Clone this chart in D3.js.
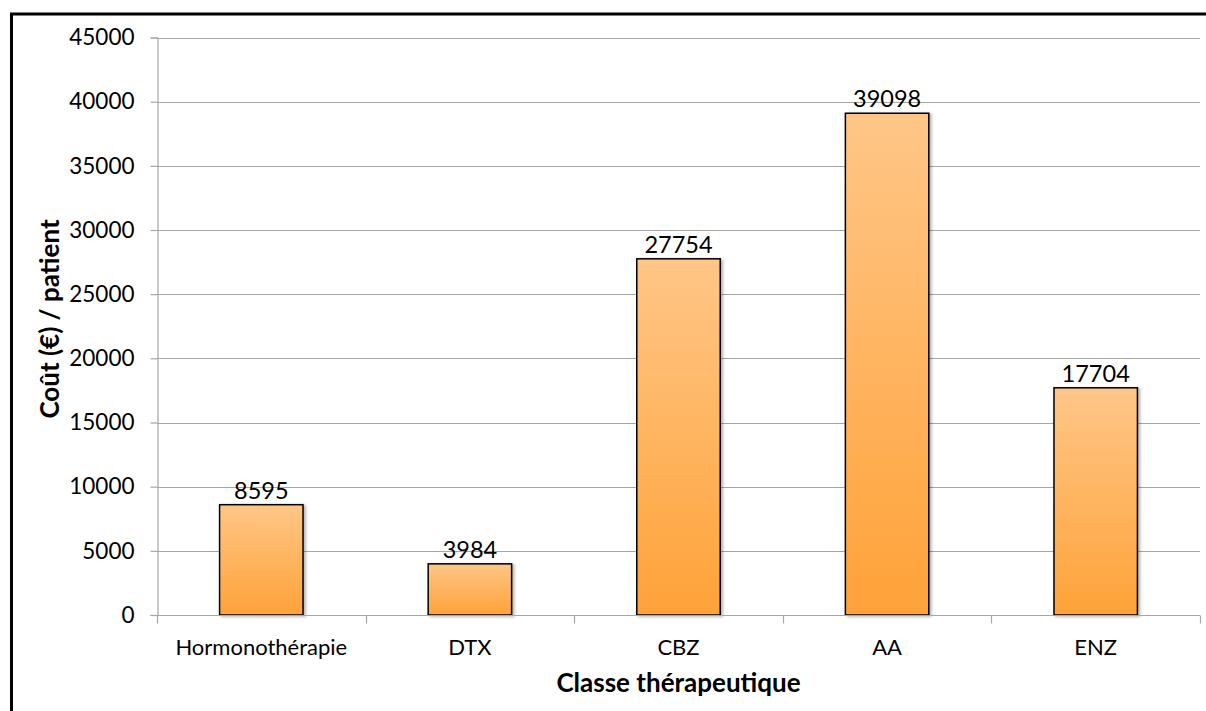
<!DOCTYPE html>
<html>
<head>
<meta charset="utf-8">
<script src="https://cdn.jsdelivr.net/npm/d3@7"></script>
<style>
  body { margin: 0; background: #fff; }
  text { font-family: Lato, "Open Sans", sans-serif; fill: #000; }
</style>
</head>
<body>
<svg id="chart" width="1206" height="711"></svg>
<script>
'use strict';

// chart data
const categories = ['Hormonothérapie', 'DTX', 'CBZ', 'AA', 'ENZ'];
const costs = [8595, 3984, 27754, 39098, 17704];
const yTicks = [0, 5000, 10000, 15000, 20000, 25000, 30000, 35000, 40000, 45000];
const xTitle = 'Classe thérapeutique';
const yTitle = 'Coût (€) / patient';

const svg = d3.select('#chart');

// plot area bounds
const plotL = 157, plotR = 1200, plotT = 37.5, plotB = 615;

const x = d3.scaleBand().domain(categories).range([plotL, plotR]).padding(0);
const y = d3.scaleLinear().domain([0, 45000]).range([plotB, plotT]);

// frame around the whole chart (only top and left edges are visible)
svg.append('rect')
  .attr('x', 11.5).attr('y', 14)
  .attr('width', 1400).attr('height', 1000)
  .attr('fill', 'none')
  .attr('stroke', '#000')
  .attr('stroke-width', 3);

// gradient + shadow for bars
const defs = svg.append('defs');
const grad = defs.append('linearGradient')
  .attr('id', 'barGrad')
  .attr('x1', 0).attr('y1', 0).attr('x2', 0).attr('y2', 1);
grad.append('stop').attr('offset', '0%').attr('stop-color', '#ffc687');
grad.append('stop').attr('offset', '100%').attr('stop-color', '#ffa239');
const shadow = defs.append('filter').attr('id', 'shadow')
  .attr('x', '-10%').attr('y', '-10%').attr('width', '130%').attr('height', '130%');
shadow.append('feDropShadow')
  .attr('dx', 2).attr('dy', 1).attr('stdDeviation', 1.5)
  .attr('flood-color', '#000').attr('flood-opacity', 0.3);

// horizontal gridlines
svg.append('g')
  .selectAll('line')
  .data(yTicks.filter(d => d > 0))
  .join('line')
  .attr('x1', plotL).attr('x2', plotR)
  .attr('y1', d => Math.round(y(d)) + 0.5)
  .attr('y2', d => Math.round(y(d)) + 0.5)
  .attr('stroke', '#a6a6a6')
  .attr('stroke-width', 1.2);

// y axis
const yAxis = svg.append('g')
  .attr('transform', `translate(${plotL + 0.5},0)`)
  .call(d3.axisLeft(y).tickValues(yTicks).tickSize(7).tickPadding(16).tickFormat(d3.format('d')));
yAxis.select('.domain').attr('stroke', '#a6a6a6').attr('stroke-width', 1.2);
yAxis.selectAll('.tick line').attr('stroke', '#a6a6a6').attr('stroke-width', 1.2);
yAxis.selectAll('.tick text')
  .style('font-family', 'Lato, sans-serif')
  .style('font-size', '22.5px')
  .attr('fill', '#000');

// bars
const barW = x.bandwidth() * 0.4;
svg.append('g')
  .selectAll('rect')
  .data(costs)
  .join('rect')
  .attr('x', (d, i) => x(categories[i]) + (x.bandwidth() - barW) / 2)
  .attr('y', d => y(d))
  .attr('width', barW)
  .attr('height', d => y(0) - y(d))
  .attr('fill', 'url(#barGrad)')
  .attr('stroke', '#000')
  .attr('stroke-width', 1.5)
  .attr('filter', 'url(#shadow)');

// value labels over bars
svg.append('g')
  .selectAll('text')
  .data(costs)
  .join('text')
  .attr('x', (d, i) => x(categories[i]) + x.bandwidth() / 2)
  .attr('y', d => y(d) - 6)
  .attr('text-anchor', 'middle')
  .style('font-size', '23.5px')
  .text(d => d);

// x axis: ticks at the category boundaries
const xAxisG = svg.append('g').attr('transform', `translate(0,${Math.round(plotB) + 0.5})`);
xAxisG.append('line')
  .attr('x1', plotL).attr('x2', plotR)
  .attr('stroke', '#a6a6a6').attr('stroke-width', 1.2);
xAxisG.selectAll('line.tk')
  .data(categories.map(c => x(c)).concat([plotR]))
  .join('line')
  .attr('class', 'tk')
  .attr('x1', d => Math.round(d) + 0.5).attr('x2', d => Math.round(d) + 0.5)
  .attr('y1', 0).attr('y2', 8)
  .attr('stroke', '#a6a6a6').attr('stroke-width', 1.2);
xAxisG.selectAll('text')
  .data(categories)
  .join('text')
  .attr('x', d => x(d) + x.bandwidth() / 2)
  .attr('y', 39)
  .attr('text-anchor', 'middle')
  .style('font-size', '22px')
  .text(d => d);

// axis titles
svg.append('text')
  .attr('x', (plotL + plotR) / 2)
  .attr('y', 692)
  .attr('text-anchor', 'middle')
  .style('font-size', '26px')
  .style('font-weight', 'bold')
  .text(xTitle);

svg.append('text')
  .attr('transform', 'translate(59,319) rotate(-90)')
  .attr('text-anchor', 'middle')
  .style('font-size', '26px')
  .style('font-weight', 'bold')
  .text(yTitle);
</script>
</body>
</html>
